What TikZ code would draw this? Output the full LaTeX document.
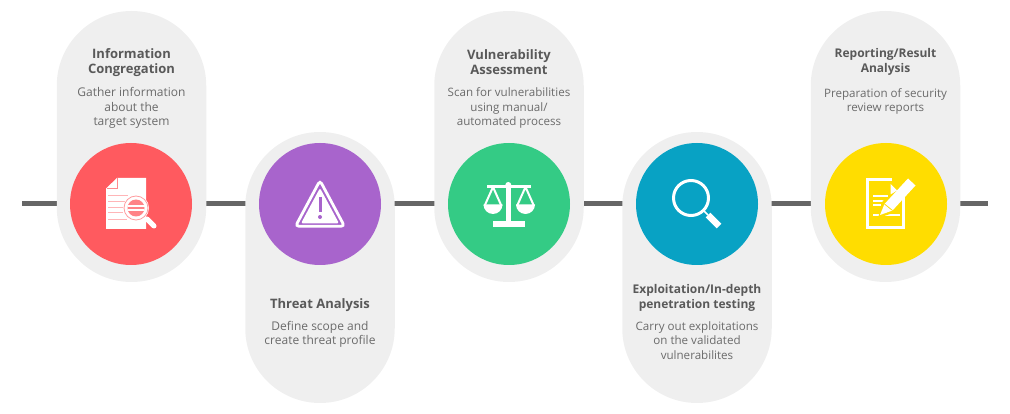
\documentclass[tikz,border=0pt]{standalone}
\usepackage{fontspec}
\setmainfont{Open Sans}
\usepackage{xcolor}
\usetikzlibrary{backgrounds}
\definecolor{pillgray}{HTML}{EFEFEF}
\definecolor{linegray}{HTML}{666666}
\definecolor{titlegray}{HTML}{595959}
\definecolor{bodygray}{HTML}{6B6B6B}
\definecolor{redc}{HTML}{FF5A5F}
\definecolor{purplec}{HTML}{A864CC}
\definecolor{greenc}{HTML}{34CB85}
\definecolor{bluec}{HTML}{08A2C4}
\definecolor{yellowc}{HTML}{FFDD00}
\tikzset{
  pill/.style={fill=pillgray,minimum width=149.5pt,minimum height=271pt,rounded corners=74.7pt,inner sep=0pt},
  disc/.style={circle,minimum size=122pt,inner sep=0pt},
  title/.style={align=center,text=titlegray,font=\fontsize{13}{15}\selectfont\bfseries},
  body/.style={align=center,text=bodygray,font=\fontsize{12}{14.6}\selectfont},
  bodysmall/.style={body,font=\fontsize{11.6}{14.5}\selectfont},
  timeline/.style={line width=5pt,linegray}
}
\begin{document}
\begin{tikzpicture}[x=1pt,y=-1pt]
  \useasboundingbox (0,0) rectangle (1010,414);

  % Les capsules grises
  \node[pill] (pilla) at (131.5,146.5) {};
  \node[pill] (pillb) at (320,267.5) {};
  \node[pill] (pillc) at (509,146.5) {};
  \node[pill] (pilld) at (697,267.5) {};
  \node[pill] (pille) at (885.5,146.5) {};

  % Les disques
  \node[disc,fill=redc] (disca) at (131,204) {};
  \node[disc,fill=purplec] (discb) at (320,204) {};
  \node[disc,fill=greenc] (discc) at (509,204) {};
  \node[disc,fill=bluec] (discd) at (697,204) {};
  \node[disc,fill=yellowc] (disce) at (886,204) {};

  % La ligne, derriere les capsules
  \coordinate (start) at (22,204);
  \coordinate (stop) at (988,204);
  \begin{scope}[on background layer]
    \draw[timeline] (start) -- (disca) -- (discb) -- (discc) -- (discd) -- (disce) -- (stop);
  \end{scope}

  % Les textes
  \node[title] (titlea) at (131.5,62.5) {Information\\Congregation};
  \node[body] (bodya) at (131.5,108) {Gather information\\about the\\target system};
  \node[title] (titleb) at (320,305) {Threat Analysis};
  \node[body] (bodyb) at (320,334.5) {Define scope and\\create threat profile};
  \node[title] (titlec) at (509,62.5) {Vulnerability\\Assessment};
  \node[bodysmall] (bodyc) at (509,108) {Scan for vulnerabilities\\using manual/\\automated process};
  \node[title,font=\fontsize{12}{15}\selectfont\bfseries] (titled) at (697,297.5) {Exploitation/In-depth\\penetration testing};
  \node[bodysmall] (bodyd) at (697,340.5) {Carry out exploitations\\on the validated\\vulnerabilites};
  \node[title,font=\fontsize{12}{14.6}\selectfont\bfseries] (titlee) at (885.5,62) {Reporting/Result\\Analysis};
  \node[bodysmall] (bodye) at (885.5,101.5) {Preparation of security\\review reports};

  % Icone document et loupe
  \fill[white] (117,178) -- (146,178) -- (146,229) -- (106,229) -- (106,188.5) -- cycle;
  \draw[redc!70,line width=0.7pt] (117.5,178.5) -- (117.5,188.5) -- (107,188.5);
  \foreach \y/\xb in {195/128,201/125,207/123,212/123,219/127}
    \draw[redc!45,line width=0.9pt] (108,\y) -- (\xb,\y);
  \draw[white,line width=5pt,line cap=round] (147,219) -- (154,226);
  \fill[white] (136,208) circle (13);
  \draw[redc!60,line width=0.8pt] (136,208) circle (12);
  \fill[redc!75] (136,208) circle (8.5);
  \fill[white] (127.5,205.5) rectangle (144.5,207.2);
  \fill[white] (128,209.5) rectangle (144,211);

  % Icone triangle
  \draw[white,line width=2.8pt,rounded corners=3.5pt] (320,180.5) -- (344.5,226.3) -- (295.5,226.3) -- cycle;
  \fill[white,rounded corners=1.5pt] (320,188) -- (339,223.4) -- (301,223.4) -- cycle;
  \draw[purplec,line width=3pt] (320,197) -- (320,212);
  \fill[purplec] (320,217) circle (2);

  % Icone balance
  \fill[white] (506,186) rectangle (510.6,222);
  \fill[white] (508.3,185) circle (3);
  \fill[white] (487,184.6) rectangle (531,187.6);
  \fill[white] (493,221.3) rectangle (525,226.7);
  \foreach \px in {493,525.5} {
    \draw[white,line width=2pt,line join=round] (\px-8.5,206) -- (\px,187) -- (\px+8.5,206);
    \fill[white] (\px-9.5,204.5) -- (\px+9.5,204.5) arc[start angle=0,end angle=-180,radius=9.5pt] -- cycle;
  }

  % Icone loupe
  \draw[white,line width=3pt] (691,198) circle (17.5);
  \draw[white,line width=1.6pt] (703.5,210.5) -- (708,215);
  \draw[white,line width=6.5pt] (708,215) -- (719,226);

  % Icone rapport et crayon
  \draw[white,line width=3.2pt,line join=miter] (892,179.6) -- (867.6,179.6) -- (867.6,227.4) -- (903.4,227.4) -- (903.4,195);
  \fill[white] (890.5,184) -- (897,190.5) -- (890.5,194.5) -- cycle;
  \foreach \y/\xb in {196/888,201/884,205/881,215/900}
    \draw[white,line width=1.2pt] (873,\y) -- (\xb,\y);
  \fill[yellowc] (878,218) -- (883,200) -- (896,212) -- cycle;
  \fill[white] (880,215) -- (884.5,204) -- (908,178.5) -- (915.5,185.5) -- (892.5,210.5) -- cycle;
  \draw[yellowc,line width=0.8pt] (884.5,204) -- (892.5,210.5);
\end{tikzpicture}
\end{document}
